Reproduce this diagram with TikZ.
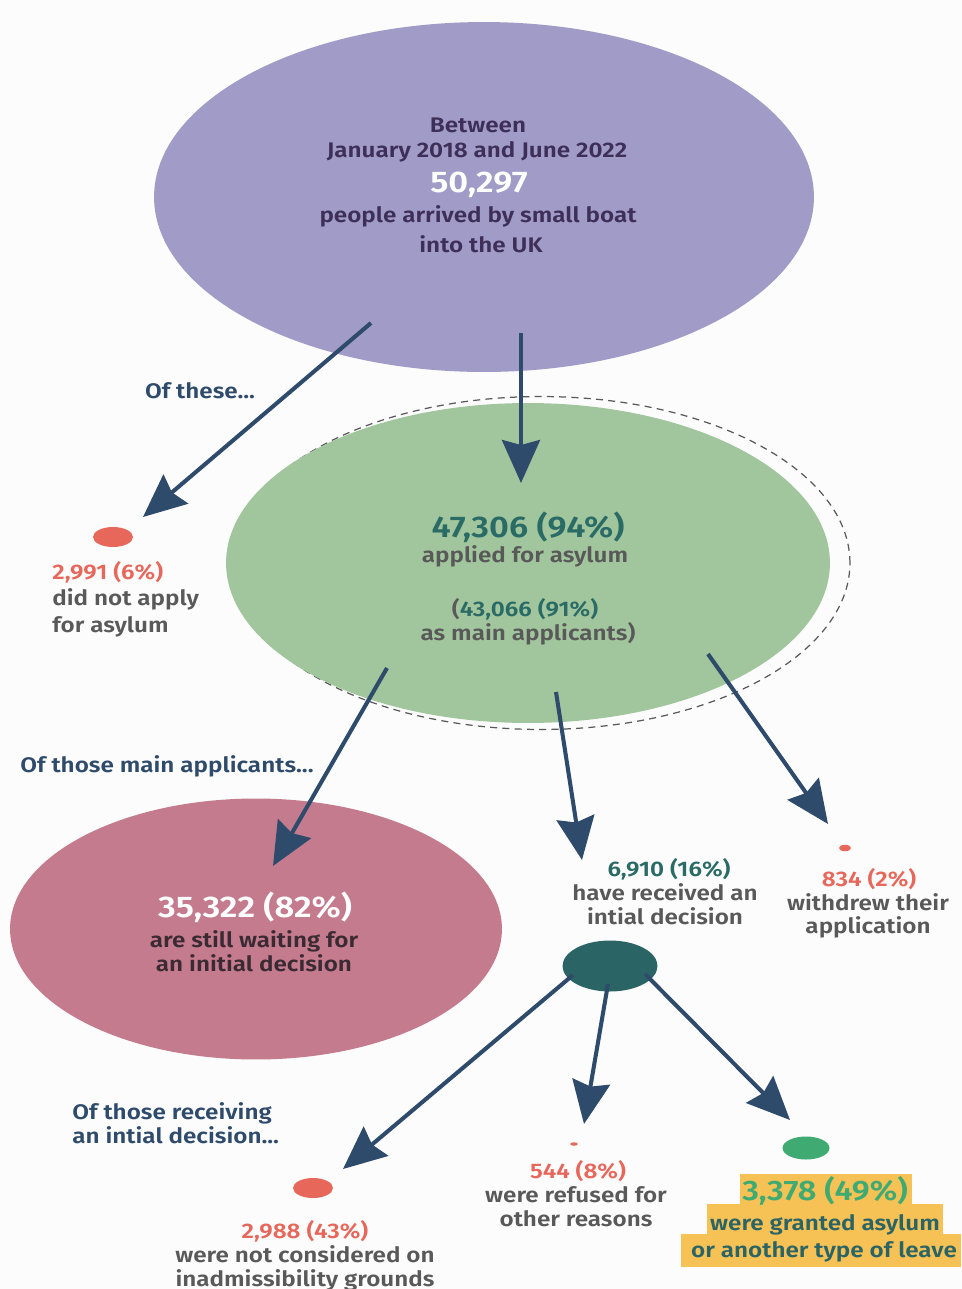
\documentclass[tikz,border=0pt]{standalone}
\usepackage{fontspec}
\setmainfont{Fira Sans}[BoldFont={Fira Sans SemiBold}, FakeStretch=1.15]
\usetikzlibrary{shapes.geometric, arrows.meta}
\definecolor{navy}{HTML}{2F4B6C}
\definecolor{lilac}{HTML}{A09BC7}
\definecolor{plum}{HTML}{3E2F58}
\definecolor{sage}{HTML}{A1C59C}
\definecolor{teal}{HTML}{2A6B66}
\definecolor{slate}{HTML}{595959}
\definecolor{coral}{HTML}{E8675B}
\definecolor{rose}{HTML}{C57B8E}
\definecolor{wine}{HTML}{3A2A33}
\definecolor{pine}{HTML}{2B6465}
\definecolor{mint}{HTML}{3FAA72}
\definecolor{amber}{HTML}{F6C155}
\definecolor{bg}{HTML}{FCFCFC}

\begin{document}
\begin{tikzpicture}[x=0.02cm, y=-0.02cm,
  blob/.style={ellipse, inner sep=0pt},
  flow/.style={navy, line width=2.3pt, -{Stealth[length=0.86cm, width=0.76cm, inset=0.1cm]}},
  txt/.style={anchor=base, inner sep=0pt, font=\bfseries\fontsize{12}{14}\selectfont},
  big/.style={anchor=base, inner sep=0pt, font=\bfseries\fontsize{17}{20}\selectfont},
  hilite/.style={fill=amber, inner sep=0pt}]
\useasboundingbox (0,0) rectangle (962,1289);
\fill [bg] (0,0) rectangle (962,1289);

\node [blob, fill=lilac, minimum width=13.2cm, minimum height=7cm] (boat) at (484,197) {};
\node [blob, draw=slate, dash pattern=on 4pt off 3pt, line width=0.7pt, minimum width=12.36cm, minimum height=6.66cm] (ring) at (541,563) {};
\node [blob, fill=sage, minimum width=12.08cm, minimum height=6.4cm] (asylum) at (528,563) {};
\node [blob, fill=rose, minimum width=9.84cm, minimum height=5.22cm] (wait) at (256,929) {};
\node [blob, fill=coral, minimum width=0.8cm, minimum height=0.4cm] (nodot) at (113,537) {};
\node [blob, fill=coral, minimum width=0.24cm, minimum height=0.13cm] (wdot) at (845,848) {};
\node [blob, fill=pine, minimum width=1.9cm, minimum height=1.02cm] (decided) at (610,966) {};
\node [blob, fill=coral, minimum width=0.8cm, minimum height=0.4cm] (inadm) at (313,1188) {};
\node [blob, fill=coral, minimum width=0.15cm, minimum height=0.07cm] (refdot) at (574,1144) {};
\node [blob, fill=mint, minimum width=0.94cm, minimum height=0.46cm] (granted) at (806,1148) {};

\node [txt, plum] (b1) at (478,132) {Between};
\node [txt, plum] (b2) at (477,157) {January 2018 and June 2022};
\node [big, white] (b3) at (479,192) {50,297};
\node [txt, plum] (b4) at (478,222) {people arrived by small boat};
\node [txt, plum] (b5) at (481,252) {into the UK};

\node [txt, navy] (ofthese) at (200,398) {Of these...};
\node [txt, coral, anchor=base west] (n1) at (52,579) {2,991 (6\%)};
\node [txt, slate, anchor=base west] (n2) at (52,605) {did not apply};
\node [txt, slate, anchor=base west] (n3) at (52,632) {for asylum};

\node [big, teal] (a1) at (528,537) {47,306 (94\%)};
\node [txt, slate] (a2) at (525,562) {applied for asylum};
\node [txt, teal] (a3) at (525,616) {{\color{slate}(}43,066 (91\%)};
\node [txt, slate] (a4) at (528,640) {as main applicants)};

\node [txt, navy, anchor=base west] (ofmain) at (20,772) {Of those main applicants...};
\node [big, white] (w1) at (255,917) {35,322 (82\%)};
\node [txt, wine] (w2) at (254,947) {are still waiting for};
\node [txt, wine] (w3) at (254,971) {an initial decision};

\node [txt, teal] (d1) at (669,876) {6,910 (16\%)};
\node [txt, slate] (d2) at (665,900) {have received an};
\node [txt, slate] (d3) at (665,924) {intial decision};
\node [txt, coral] (x1) at (869,886) {834 (2\%)};
\node [txt, slate] (x2) at (868,910) {withdrew their};
\node [txt, slate] (x3) at (868,933) {application};

\node [txt, navy, anchor=base west] (ofrec1) at (72,1119) {Of those receiving};
\node [txt, navy, anchor=base west] (ofrec2) at (72,1143) {an intial decision...};
\node [txt, coral] (i1) at (305,1238) {2,988 (43\%)};
\node [txt, slate] (i2) at (305,1262) {were not considered on};
\node [txt, slate] (i3) at (305,1286) {inadmissibility grounds};
\node [txt, coral] (r1) at (578,1178) {544 (8\%)};
\node [txt, slate] (r2) at (576,1202) {were refused for};
\node [txt, slate] (r3) at (576,1226) {other reasons};

\node [hilite, minimum width=3.46cm, minimum height=0.6cm] (hl1) at (826,1189) {};
\node [hilite, minimum width=4.72cm, minimum height=0.6cm] (hl2) at (825,1219) {};
\node [hilite, minimum width=5.62cm, minimum height=0.66cm] (hl3) at (821,1250) {};
\node [big, mint, font=\bfseries\fontsize{16}{19}\selectfont] (g1) at (825,1200) {3,378 (49\%)};
\node [txt, pine] (g2) at (825,1230) {were granted asylum};
\node [txt, pine] (g3) at (824,1257) {or another type of leave};

\coordinate (s1) at (371,323);
\coordinate (e1) at (143,517);
\coordinate (s2) at (521,333);
\coordinate (e2) at (521,483);
\coordinate (s3) at (387,668);
\coordinate (e3) at (273,866);
\coordinate (s4) at (556,692);
\coordinate (e4) at (582,860);
\coordinate (s5) at (708,654);
\coordinate (e5) at (828,824);
\coordinate (s6) at (573,975);
\coordinate (e6) at (343,1169);
\coordinate (s7) at (608,984);
\coordinate (e7) at (584,1124);
\coordinate (s8) at (645,974);
\coordinate (e8) at (790,1120);
\draw [flow] (s1) -- (e1);
\draw [flow] (s2) -- (e2);
\draw [flow] (s3) -- (e3);
\draw [flow] (s4) -- (e4);
\draw [flow] (s5) -- (e5);
\draw [flow] (s6) -- (e6);
\draw [flow] (s7) -- (e7);
\draw [flow] (s8) -- (e8);
\end{tikzpicture}
\end{document}
